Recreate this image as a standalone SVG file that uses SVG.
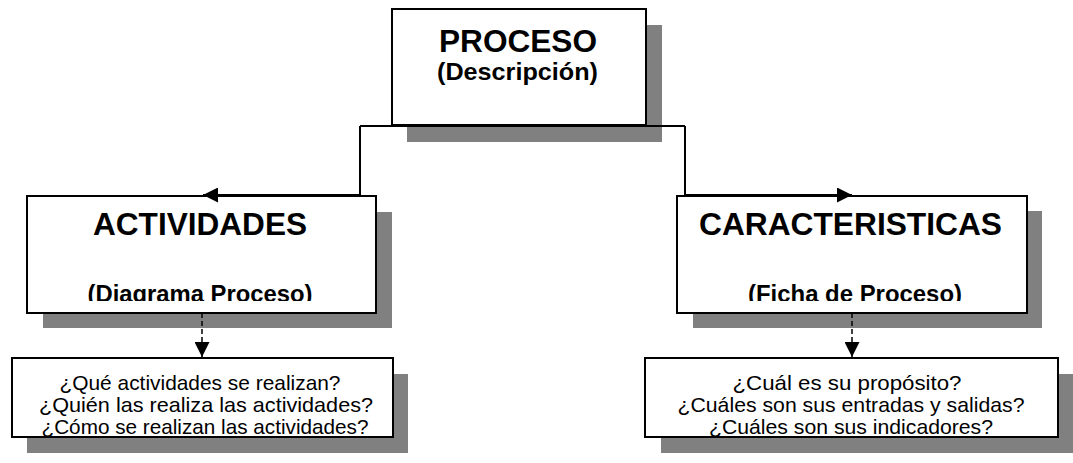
<svg xmlns="http://www.w3.org/2000/svg" width="1073" height="463" viewBox="0 0 1073 463">
  <style>
    .shadow { fill: #808080; stroke: none; }
    .box { fill: #ffffff; stroke: #000000; stroke-width: 2; }
    .title { font-family: "Liberation Sans", Arial, sans-serif; font-weight: bold; font-size: 32px; fill: #000; text-anchor: middle; }
    .sub { font-family: "Liberation Sans", Arial, sans-serif; font-weight: bold; font-size: 24px; fill: #000; text-anchor: middle; }
    .q { font-family: "Liberation Sans", Arial, sans-serif; font-size: 21px; fill: #000; text-anchor: middle; }
    .link { fill: none; stroke: #000000; stroke-width: 2; }
    .dash { fill: none; stroke: #000000; stroke-width: 1.5; stroke-dasharray: 5 3; }
  </style>
  <defs>
    <marker id="head" viewBox="0 0 15 15" refX="15" refY="7.5" markerWidth="15" markerHeight="15" markerUnits="userSpaceOnUse" orient="auto">
      <path d="M0,0 L15,7.5 L0,15 Z" fill="#000000"/>
    </marker>
    <!-- subtitles are cut off just above the lower border -->
    <clipPath id="subClip">
      <rect x="0" y="0" width="1073" height="301"/>
    </clipPath>
  </defs>

  <rect width="1073" height="463" fill="#ffffff"/>

  <g id="proceso">
    <rect class="shadow" x="407" y="25" width="255" height="117"/>
    <rect class="box" x="392" y="9" width="254" height="116"/>
    <text class="title" x="518" y="52" textLength="158" lengthAdjust="spacingAndGlyphs">PROCESO</text>
    <text class="sub" x="517.5" y="80" textLength="161" lengthAdjust="spacingAndGlyphs">(Descripción)</text>
  </g>

  <g id="actividades">
    <rect class="shadow" x="43" y="212" width="349" height="116"/>
    <rect class="box" x="27" y="196" width="349" height="117"/>
    <text class="title" x="200" y="235" textLength="214" lengthAdjust="spacingAndGlyphs">ACTIVIDADES</text>
    <text class="sub" x="200" y="302" textLength="225" lengthAdjust="spacingAndGlyphs" clip-path="url(#subClip)">(Diagrama Proceso)</text>
  </g>

  <g id="caracteristicas">
    <rect class="shadow" x="693" y="211" width="349" height="117"/>
    <rect class="box" x="677" y="196" width="350" height="117"/>
    <text class="title" x="850.5" y="235" textLength="303" lengthAdjust="spacingAndGlyphs">CARACTERISTICAS</text>
    <text class="sub" x="855" y="302" textLength="214" lengthAdjust="spacingAndGlyphs" clip-path="url(#subClip)">(Ficha de Proceso)</text>
  </g>

  <g id="preguntas-actividades">
    <rect class="shadow" x="27" y="374" width="381" height="79"/>
    <rect class="box" x="12" y="358" width="381" height="79"/>
    <text class="q" x="200" y="390" textLength="281" lengthAdjust="spacingAndGlyphs">¿Qué actividades se realizan?</text>
    <text class="q" x="206" y="412" textLength="334" lengthAdjust="spacingAndGlyphs">¿Quién las realiza las actividades?</text>
    <text class="q" x="205" y="434" textLength="327" lengthAdjust="spacingAndGlyphs">¿Cómo se realizan las actividades?</text>
  </g>

  <g id="preguntas-caracteristicas">
    <rect class="shadow" x="661" y="374" width="412" height="79"/>
    <rect class="box" x="645" y="358" width="413" height="79"/>
    <text class="q" x="847" y="390" textLength="229" lengthAdjust="spacingAndGlyphs">¿Cuál es su propósito?</text>
    <text class="q" x="851" y="412" textLength="347" lengthAdjust="spacingAndGlyphs">¿Cuáles son sus entradas y salidas?</text>
    <text class="q" x="851" y="434" textLength="284" lengthAdjust="spacingAndGlyphs">¿Cuáles son sus indicadores?</text>
  </g>

  <g id="connectors">
    <path class="link" d="M360,126 L685,126"/>
    <path class="link" d="M360,126 L360,195 L203,195" marker-end="url(#head)"/>
    <path class="link" d="M685,126 L685,195 L852,195" marker-end="url(#head)"/>
    <path class="dash" d="M202,313 L202,357" marker-end="url(#head)"/>
    <path class="dash" d="M852,313 L852,357" marker-end="url(#head)"/>
  </g>
</svg>
